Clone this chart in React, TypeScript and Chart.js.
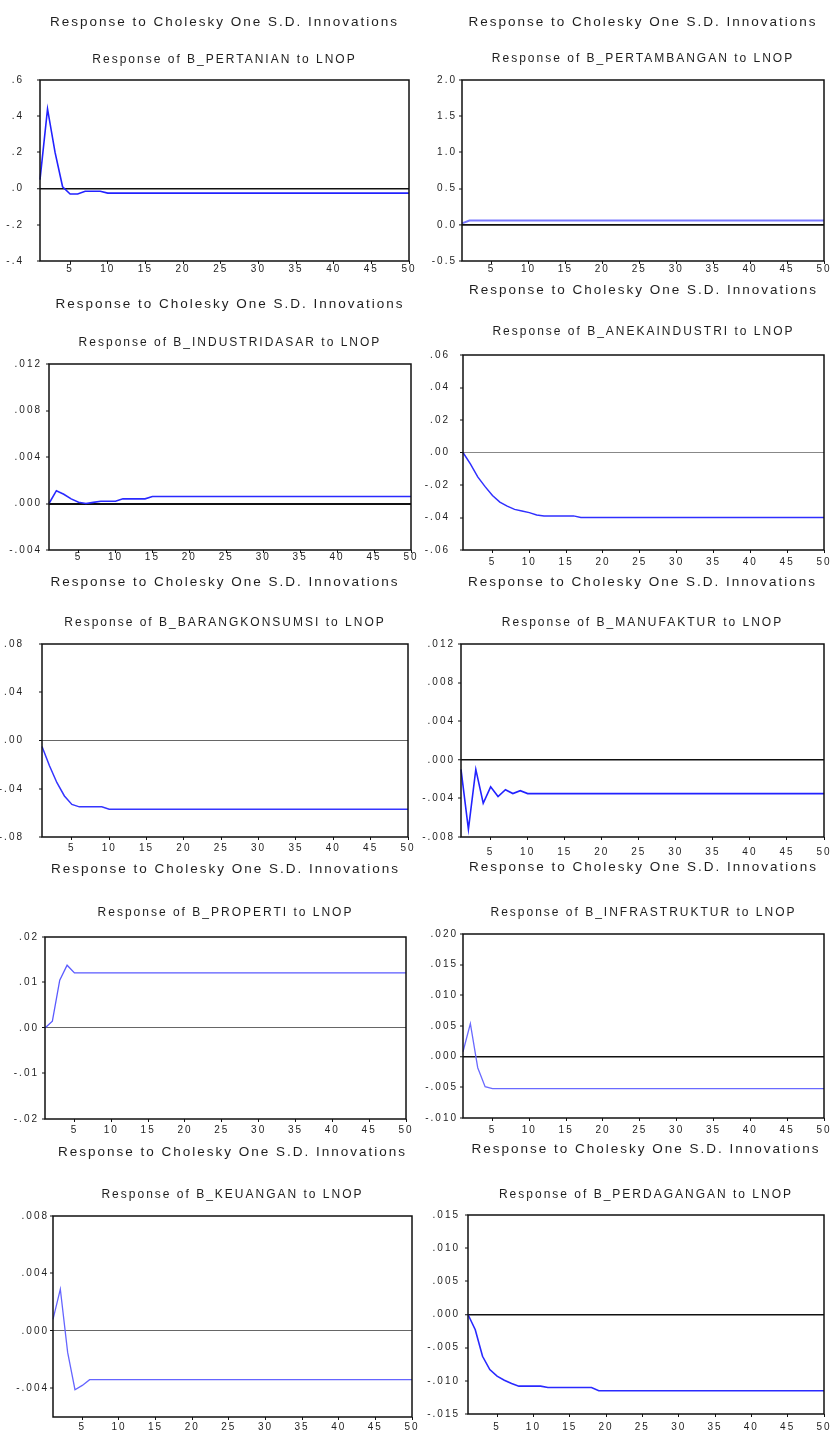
import React, { useEffect, useRef } from "react";
import { Chart, registerables } from "chart.js";

Chart.register(...registerables);

const FONT = "'Liberation Sans', Arial, Helvetica, sans-serif";
const TEXT = "#1e1e1e";

const periods = [
  1, 2, 3, 4, 5, 6, 7, 8, 9, 10, 11, 12, 13, 14, 15, 16, 17, 18, 19, 20, 21, 22, 23, 24, 25,
  26, 27, 28, 29, 30, 31, 32, 33, 34, 35, 36, 37, 38, 39, 40, 41, 42, 43, 44, 45, 46, 47, 48, 49, 50,
];
const xTickLabels = ["5", "10", "15", "20", "25", "30", "35", "40", "45", "50"];
const mainTitle = "Response to Cholesky One S.D. Innovations";
const subtitles = [
  "Response of B_PERTANIAN to LNOP",
  "Response of B_PERTAMBANGAN to LNOP",
  "Response of B_INDUSTRIDASAR to LNOP",
  "Response of B_ANEKAINDUSTRI to LNOP",
  "Response of B_BARANGKONSUMSI to LNOP",
  "Response of B_MANUFAKTUR to LNOP",
  "Response of B_PROPERTI to LNOP",
  "Response of B_INFRASTRUKTUR to LNOP",
  "Response of B_KEUANGAN to LNOP",
  "Response of B_PERDAGANGAN to LNOP",
];

// ---- Panel 1: PERTANIAN
const pertanianTicks = ["-.4", "-.2", ".0", ".2", ".4", ".6"];
const pertanianRange = [-0.4, 0.6];
const pertanianValues = [
  0.05, 0.44, 0.2, 0.01, -0.03, -0.03, -0.015, -0.015, -0.015, -0.025,
  -0.025, -0.025, -0.025, -0.025, -0.025, -0.025, -0.025, -0.025, -0.025, -0.025,
  -0.025, -0.025, -0.025, -0.025, -0.025, -0.025, -0.025, -0.025, -0.025, -0.025,
  -0.025, -0.025, -0.025, -0.025, -0.025, -0.025, -0.025, -0.025, -0.025, -0.025,
  -0.025, -0.025, -0.025, -0.025, -0.025, -0.025, -0.025, -0.025, -0.025, -0.025,
];

// ---- Panel 2: PERTAMBANGAN
const pertambanganTicks = ["-0.5", "0.0", "0.5", "1.0", "1.5", "2.0"];
const pertambanganRange = [-0.5, 2.0];
const pertambanganValues = [
  0.02, 0.06, 0.06, 0.06, 0.06, 0.06, 0.06, 0.06, 0.06, 0.06,
  0.06, 0.06, 0.06, 0.06, 0.06, 0.06, 0.06, 0.06, 0.06, 0.06,
  0.06, 0.06, 0.06, 0.06, 0.06, 0.06, 0.06, 0.06, 0.06, 0.06,
  0.06, 0.06, 0.06, 0.06, 0.06, 0.06, 0.06, 0.06, 0.06, 0.06,
  0.06, 0.06, 0.06, 0.06, 0.06, 0.06, 0.06, 0.06, 0.06, 0.06,
];

// ---- Panel 3: INDUSTRIDASAR
const industriDasarTicks = ["-.004", ".000", ".004", ".008", ".012"];
const industriDasarRange = [-0.004, 0.012];
const industriDasarValues = [
  0.0, 0.0011, 0.0008, 0.0004, 0.0001, 0.0, 0.0001, 0.0002, 0.0002, 0.0002,
  0.0004, 0.0004, 0.0004, 0.0004, 0.0006, 0.0006, 0.0006, 0.0006, 0.0006, 0.0006,
  0.0006, 0.0006, 0.0006, 0.0006, 0.0006, 0.0006, 0.0006, 0.0006, 0.0006, 0.0006,
  0.0006, 0.0006, 0.0006, 0.0006, 0.0006, 0.0006, 0.0006, 0.0006, 0.0006, 0.0006,
  0.0006, 0.0006, 0.0006, 0.0006, 0.0006, 0.0006, 0.0006, 0.0006, 0.0006, 0.0006,
];

// ---- Panel 4: ANEKAINDUSTRI
const anekaTicks = ["-.06", "-.04", "-.02", ".00", ".02", ".04", ".06"];
const anekaRange = [-0.06, 0.06];
const anekaValues = [
  0.0, -0.007, -0.015, -0.021, -0.0265, -0.0305, -0.033, -0.035, -0.036, -0.037,
  -0.0385, -0.039, -0.039, -0.039, -0.039, -0.039, -0.04, -0.04, -0.04, -0.04,
  -0.04, -0.04, -0.04, -0.04, -0.04, -0.04, -0.04, -0.04, -0.04, -0.04,
  -0.04, -0.04, -0.04, -0.04, -0.04, -0.04, -0.04, -0.04, -0.04, -0.04,
  -0.04, -0.04, -0.04, -0.04, -0.04, -0.04, -0.04, -0.04, -0.04, -0.04,
];

// ---- Panel 5: BARANGKONSUMSI
const barangTicks = ["-.08", "-.04", ".00", ".04", ".08"];
const barangRange = [-0.08, 0.08];
const barangValues = [
  -0.005, -0.021, -0.035, -0.046, -0.053, -0.055, -0.055, -0.055, -0.055, -0.057,
  -0.057, -0.057, -0.057, -0.057, -0.057, -0.057, -0.057, -0.057, -0.057, -0.057,
  -0.057, -0.057, -0.057, -0.057, -0.057, -0.057, -0.057, -0.057, -0.057, -0.057,
  -0.057, -0.057, -0.057, -0.057, -0.057, -0.057, -0.057, -0.057, -0.057, -0.057,
  -0.057, -0.057, -0.057, -0.057, -0.057, -0.057, -0.057, -0.057, -0.057, -0.057,
];

// ---- Panel 6: MANUFAKTUR
const manufakturTicks = ["-.008", "-.004", ".000", ".004", ".008", ".012"];
const manufakturRange = [-0.008, 0.012];
const manufakturValues = [
  -0.001, -0.0072, -0.001, -0.0045, -0.0028, -0.0038, -0.0031, -0.0035, -0.0032, -0.0035,
  -0.0035, -0.0035, -0.0035, -0.0035, -0.0035, -0.0035, -0.0035, -0.0035, -0.0035, -0.0035,
  -0.0035, -0.0035, -0.0035, -0.0035, -0.0035, -0.0035, -0.0035, -0.0035, -0.0035, -0.0035,
  -0.0035, -0.0035, -0.0035, -0.0035, -0.0035, -0.0035, -0.0035, -0.0035, -0.0035, -0.0035,
  -0.0035, -0.0035, -0.0035, -0.0035, -0.0035, -0.0035, -0.0035, -0.0035, -0.0035, -0.0035,
];

// ---- Panel 7: PROPERTI
const propertiTicks = ["-.02", "-.01", ".00", ".01", ".02"];
const propertiRange = [-0.02, 0.02];
const propertiValues = [
  0.0, 0.0015, 0.0105, 0.0138, 0.0121, 0.0121, 0.0121, 0.0121, 0.0121, 0.0121,
  0.0121, 0.0121, 0.0121, 0.0121, 0.0121, 0.0121, 0.0121, 0.0121, 0.0121, 0.0121,
  0.0121, 0.0121, 0.0121, 0.0121, 0.0121, 0.0121, 0.0121, 0.0121, 0.0121, 0.0121,
  0.0121, 0.0121, 0.0121, 0.0121, 0.0121, 0.0121, 0.0121, 0.0121, 0.0121, 0.0121,
  0.0121, 0.0121, 0.0121, 0.0121, 0.0121, 0.0121, 0.0121, 0.0121, 0.0121, 0.0121,
];

// ---- Panel 8: INFRASTRUKTUR
const infrastrukturTicks = ["-.010", "-.005", ".000", ".005", ".010", ".015", ".020"];
const infrastrukturRange = [-0.01, 0.02];
const infrastrukturValues = [
  0.0008, 0.0054, -0.0018, -0.0049, -0.0052, -0.0052, -0.0052, -0.0052, -0.0052, -0.0052,
  -0.0052, -0.0052, -0.0052, -0.0052, -0.0052, -0.0052, -0.0052, -0.0052, -0.0052, -0.0052,
  -0.0052, -0.0052, -0.0052, -0.0052, -0.0052, -0.0052, -0.0052, -0.0052, -0.0052, -0.0052,
  -0.0052, -0.0052, -0.0052, -0.0052, -0.0052, -0.0052, -0.0052, -0.0052, -0.0052, -0.0052,
  -0.0052, -0.0052, -0.0052, -0.0052, -0.0052, -0.0052, -0.0052, -0.0052, -0.0052, -0.0052,
];

// ---- Panel 9: KEUANGAN
const keuanganTicks = ["-.004", ".000", ".004", ".008"];
const keuanganRange = [-0.006, 0.008];
const keuanganValues = [
  0.0008, 0.0029, -0.0015, -0.0041, -0.0038, -0.0034, -0.0034, -0.0034, -0.0034, -0.0034,
  -0.0034, -0.0034, -0.0034, -0.0034, -0.0034, -0.0034, -0.0034, -0.0034, -0.0034, -0.0034,
  -0.0034, -0.0034, -0.0034, -0.0034, -0.0034, -0.0034, -0.0034, -0.0034, -0.0034, -0.0034,
  -0.0034, -0.0034, -0.0034, -0.0034, -0.0034, -0.0034, -0.0034, -0.0034, -0.0034, -0.0034,
  -0.0034, -0.0034, -0.0034, -0.0034, -0.0034, -0.0034, -0.0034, -0.0034, -0.0034, -0.0034,
];

// ---- Panel 10: PERDAGANGAN
const perdaganganTicks = ["-.015", "-.010", "-.005", ".000", ".005", ".010", ".015"];
const perdaganganRange = [-0.015, 0.015];
const perdaganganValues = [
  0.0, -0.0023, -0.0063, -0.0083, -0.0093, -0.0099, -0.0104, -0.0108, -0.0108, -0.0108,
  -0.0108, -0.011, -0.011, -0.011, -0.011, -0.011, -0.011, -0.011, -0.0115, -0.0115,
  -0.0115, -0.0115, -0.0115, -0.0115, -0.0115, -0.0115, -0.0115, -0.0115, -0.0115, -0.0115,
  -0.0115, -0.0115, -0.0115, -0.0115, -0.0115, -0.0115, -0.0115, -0.0115, -0.0115, -0.0115,
  -0.0115, -0.0115, -0.0115, -0.0115, -0.0115, -0.0115, -0.0115, -0.0115, -0.0115, -0.0115,
];

// ---- layout / style of each panel (plot box: left, top, right, bottom)
const layouts = [
  { box: [40, 80, 409, 261], titleY: 23, subY: 60, yGap: 18, xGap: 8, zero: "#111", zeroW: 1.5, line: "#2222ff", lineW: 1.6 },
  { box: [462, 80, 824, 261], titleY: 23, subY: 59, yGap: 7, xGap: 8, zero: "#111", zeroW: 1.8, line: "#7a7aff", lineW: 2 },
  { box: [49, 364, 411, 550], titleY: 305, subY: 343, yGap: 9, xGap: 7, zero: "#111", zeroW: 2, line: "#2a2aff", lineW: 1.6 },
  { box: [463, 355, 824, 550], titleY: 291, subY: 332, yGap: 15, xGap: 12, zero: "#888", zeroW: 1, line: "#3030ff", lineW: 1.5 },
  { box: [42, 644, 408, 837], titleY: 583, subY: 623, yGap: 20, xGap: 11, zero: "#666", zeroW: 1, line: "#3535ff", lineW: 1.5 },
  { box: [461, 644, 824, 837], titleY: 583, subY: 623, yGap: 8, xGap: 15, zero: "#111", zeroW: 1.5, line: "#2222ff", lineW: 1.6 },
  { box: [45, 937, 406, 1119], titleY: 870, subY: 913, yGap: 8, xGap: 11, zero: "#666", zeroW: 1, line: "#5a5aff", lineW: 1.3 },
  { box: [463, 934, 824, 1118], titleY: 868, subY: 913, yGap: 7, xGap: 12, zero: "#111", zeroW: 1.5, line: "#6a6aff", lineW: 1.3 },
  { box: [53, 1216, 412, 1417], titleY: 1153, subY: 1195, yGap: 6, xGap: 10, zero: "#666", zeroW: 1, line: "#6565ff", lineW: 1.3 },
  { box: [468, 1215, 824, 1414], titleY: 1150, subY: 1195, yGap: 10, xGap: 13, zero: "#111", zeroW: 1.5, line: "#2a2aff", lineW: 1.6 },
];

const panelData = [
  { ticks: pertanianTicks, range: pertanianRange, values: pertanianValues },
  { ticks: pertambanganTicks, range: pertambanganRange, values: pertambanganValues },
  { ticks: industriDasarTicks, range: industriDasarRange, values: industriDasarValues },
  { ticks: anekaTicks, range: anekaRange, values: anekaValues },
  { ticks: barangTicks, range: barangRange, values: barangValues },
  { ticks: manufakturTicks, range: manufakturRange, values: manufakturValues },
  { ticks: propertiTicks, range: propertiRange, values: propertiValues },
  { ticks: infrastrukturTicks, range: infrastrukturRange, values: infrastrukturValues },
  { ticks: keuanganTicks, range: keuanganRange, values: keuanganValues },
  { ticks: perdaganganTicks, range: perdaganganRange, values: perdaganganValues },
];

const TITLE_SIZE = 13.5;
const SUB_SIZE = 12;
const TICK_SIZE = 10;
const TICK_LEN = 3;

const framePlugin = {
  id: "eviewsFrame",
  beforeDraw(chart: any) {
    (chart.ctx as any).letterSpacing = "2px";
  },
  afterDraw(chart: any) {
    const { ctx, chartArea: a } = chart;
    ctx.save();
    ctx.strokeStyle = "#111";
    ctx.lineWidth = 1.5;
    ctx.strokeRect(a.left, a.top, a.right - a.left, a.bottom - a.top);
    ctx.restore();
  },
};

function Panel({ idx }: { idx: number }) {
  const ref = useRef<HTMLCanvasElement | null>(null);
  const lay = layouts[idx];
  const dat = panelData[idx];
  const [bl, bt, br, bb] = lay.box;
  const canvasLeft = bl < 415 ? 0 : 415;
  const titleHalf = (TITLE_SIZE * 1.2) / 2;
  const subHalf = (SUB_SIZE * 1.2) / 2;
  const xAxisH = Math.max(16, lay.xGap + 9);
  const canvasTop = Math.floor(lay.titleY - titleHalf);
  const W = Math.round(br + 6 - canvasLeft);
  const H = Math.ceil(bb + xAxisH - canvasTop);

  useEffect(() => {
    const padRight = canvasLeft + W - br;
    const titleBottomPad = lay.subY - subHalf - (canvasTop + TITLE_SIZE * 1.2);
    const subBottomPad = bt - (lay.subY + subHalf);
    const yAxisW = bl - canvasLeft;
    const chart = new Chart(ref.current as HTMLCanvasElement, {
      type: "line",
      data: {
        labels: periods.map(String),
        datasets: [
          {
            data: dat.values,
            borderColor: lay.line,
            borderWidth: lay.lineW,
            pointRadius: 0,
            tension: 0,
            fill: false,
          },
        ],
      },
      options: {
        responsive: false,
        animation: false,
        devicePixelRatio: 1,
        layout: { padding: { left: 0, right: padRight, top: 0, bottom: 0 } },
        plugins: {
          legend: { display: false },
          tooltip: { enabled: false },
          title: {
            display: true,
            text: mainTitle,
            fullSize: false,
            color: TEXT,
            font: { family: FONT, size: TITLE_SIZE, weight: "normal" },
            padding: { top: 0, bottom: titleBottomPad },
          },
          subtitle: {
            display: true,
            text: subtitles[idx],
            fullSize: false,
            color: TEXT,
            font: { family: FONT, size: SUB_SIZE, weight: "normal" },
            padding: { top: 0, bottom: subBottomPad },
          },
        },
        scales: {
          x: {
            type: "category",
            offset: false,
            border: { display: false },
            grid: {
              display: true,
              drawOnChartArea: false,
              drawTicks: true,
              tickLength: TICK_LEN,
              tickColor: "#111",
              color: "#111",
            },
            ticks: {
              autoSkip: false,
              maxRotation: 0,
              minRotation: 0,
              padding: lay.xGap - TICK_LEN - 6,
              color: TEXT,
              font: { family: FONT, size: TICK_SIZE },
            },
            afterBuildTicks: (axis: any) => {
              axis.ticks = axis.ticks.filter((t: any) => xTickLabels.includes(String(periods[t.value])));
            },
            afterFit: (s: any) => {
              s.height = xAxisH;
              s.paddingLeft = 0;
              s.paddingRight = 0;
            },
          },
          y: {
            type: "linear",
            min: dat.range[0],
            max: dat.range[1],
            border: { display: false },
            grid: {
              display: true,
              drawOnChartArea: true,
              drawTicks: true,
              tickLength: TICK_LEN,
              tickColor: "#111",
              tickWidth: 1,
              color: (c: any) => (c.tick && c.tick.value === 0 ? lay.zero : "rgba(0,0,0,0)"),
              lineWidth: (c: any) => (c.tick && c.tick.value === 0 ? lay.zeroW : 0),
            },
            ticks: {
              padding: lay.yGap - TICK_LEN - 2,
              color: TEXT,
              font: { family: FONT, size: TICK_SIZE },
              callback: (v: any) => {
                const s = dat.ticks.find((t) => Number(t) === Number(v));
                return s === undefined ? "" : s;
              },
            },
            afterBuildTicks: (axis: any) => {
              axis.ticks = dat.ticks.map((t) => ({ value: Number(t) }));
            },
            afterFit: (s: any) => {
              s.width = yAxisW;
              s.paddingTop = 0;
              s.paddingBottom = 0;
            },
          },
        },
      },
      plugins: [framePlugin as any],
    });
    return () => chart.destroy();
  }, []);

  return (
    <canvas
      ref={ref}
      width={W}
      height={H}
      style={{ position: "absolute", left: canvasLeft, top: canvasTop, width: W, height: H }}
    />
  );
}

export default function App() {
  return (
    <div
      style={{
        position: "absolute",
        left: 0,
        top: 0,
        width: 830,
        height: 1432,
        overflow: "hidden",
        background: "#ffffff",
      }}
    >
      {layouts.map((_, i) => (
        <Panel key={i} idx={i} />
      ))}
    </div>
  );
}
